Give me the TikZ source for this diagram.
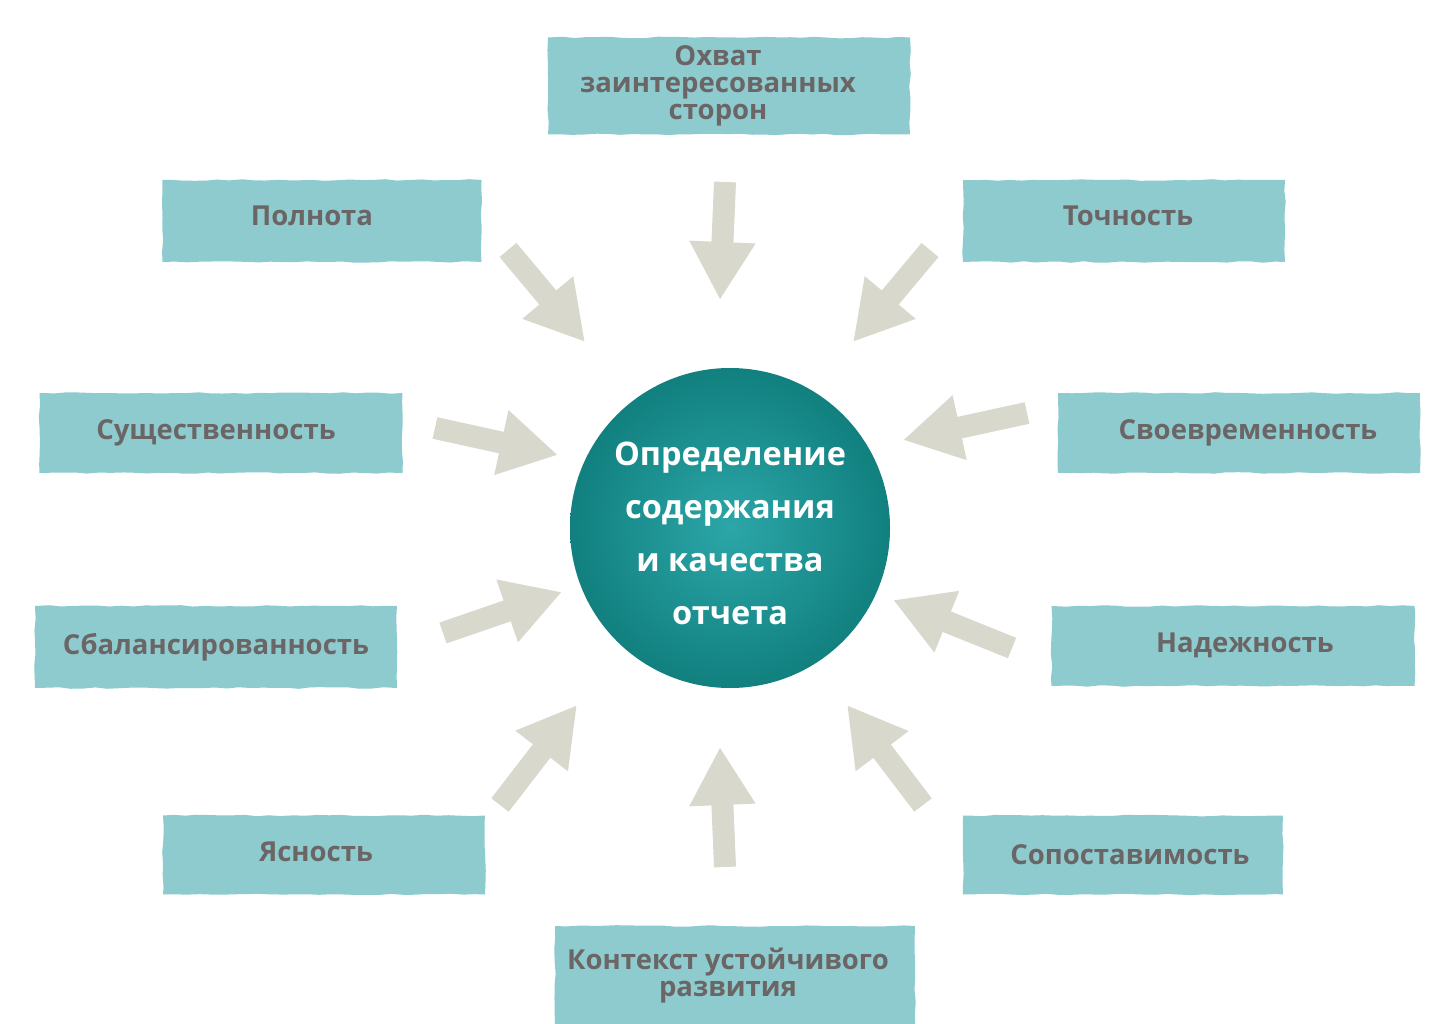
\documentclass[tikz,border=0pt]{standalone}
\usepackage{fontspec}
\setmainfont{Open Sans}
\usetikzlibrary{arrows.meta,decorations.pathmorphing,shapes.geometric}
\definecolor{boxcol}{HTML}{8ECBCF}
\definecolor{txtcol}{HTML}{6B6565}
\definecolor{arrcol}{HTML}{D8D8CD}
\definecolor{circout}{HTML}{11807F}
\definecolor{circin}{HTML}{2CA6A8}
\begin{document}
\begin{tikzpicture}[x=1pt,y=-1pt,
  tag/.style={fill=boxcol, text=txtcol, font=\fontsize{27.5}{27}\selectfont\bfseries,
    align=center, inner sep=0pt, decorate,
    decoration={random steps, segment length=12pt, amplitude=0.8pt}},
  pointer/.style={draw=arrcol, line width=22pt, line cap=butt,
    -{Triangle[width=62pt,length=58pt,fill=arrcol]}},
  hub/.style={circle, minimum size=320pt, inner sep=-60pt, shading=radial,
    inner color=circin, outer color=circout, text=white,
    font=\fontsize{32.5}{53}\selectfont\bfseries, align=center}]
\pgfmathsetseed{7}
\useasboundingbox[fill=white] (0,0) rectangle (1434,1024);

% boxes
\node[tag, minimum width=362pt, minimum height=97pt] (b1) at (729,86) {\raisebox{4pt}{\hspace*{-22pt}\parbox{340pt}{\centering Охват\\заинтересованных\\сторон}}};
\node[tag, minimum width=319pt, minimum height=82pt] (b2) at (322,221) {\raisebox{10pt}{\hspace*{-20pt}Полнота}};
\node[tag, minimum width=322pt, minimum height=82pt] (b3) at (1124,221) {\raisebox{10pt}{\hspace*{8pt}Точность}};
\node[tag, minimum width=363pt, minimum height=80pt] (b4) at (221,433) {\raisebox{7pt}{\hspace*{-10pt}Существенность}};
\node[tag, minimum width=362pt, minimum height=80pt] (b5) at (1239,433) {\raisebox{7pt}{\hspace*{18pt}Своевременность}};
\node[tag, minimum width=362pt, minimum height=82pt] (b6) at (216,647) {\raisebox{7pt}{Сбалансированность}};
\node[tag, minimum width=363pt, minimum height=80pt] (b7) at (1233,646) {\raisebox{6pt}{\hspace*{24pt}Надежность}};
\node[tag, minimum width=322pt, minimum height=79pt] (b8) at (324,855) {\raisebox{7pt}{\hspace*{-16pt}Ясность}};
\node[tag, minimum width=320pt, minimum height=79pt] (b9) at (1123,855) {\hspace*{14pt}Сопоставимость};
\node[tag, minimum width=360pt, minimum height=100pt] (b10) at (735,976) {\raisebox{-3pt}{\hspace*{-14pt}\parbox{340pt}{\centering Контекст устойчивого\\развития}}};

% center
\node[hub] (c) at (730,528) {\raisebox{-5pt}[\height][\depth]{\parbox{300pt}{\centering Определение\\содержания\\и качества\\отчета}}};

% arrow ends
\coordinate (t1) at (725,182);  \coordinate (h1) at (720,300);
\coordinate (t2) at (508,250);  \coordinate (h2) at (585,342);
\coordinate (t3) at (930,250);  \coordinate (h3) at (853,342);
\coordinate (t4) at (435,428);  \coordinate (h4) at (558,455);
\coordinate (t5) at (1027,413); \coordinate (h5) at (903,440);
\coordinate (t6) at (443,633);  \coordinate (h6) at (562,592);
\coordinate (t7) at (1012,648); \coordinate (h7) at (893,600);
\coordinate (t8) at (500,805);  \coordinate (h8) at (577,705);
\coordinate (t9) at (725,867);  \coordinate (h9) at (720,747);
\coordinate (t10) at (923,805); \coordinate (h10) at (847,705);

\foreach \i in {1,...,10} {\draw[pointer] (t\i) -- (h\i);}
\end{tikzpicture}
\end{document}
